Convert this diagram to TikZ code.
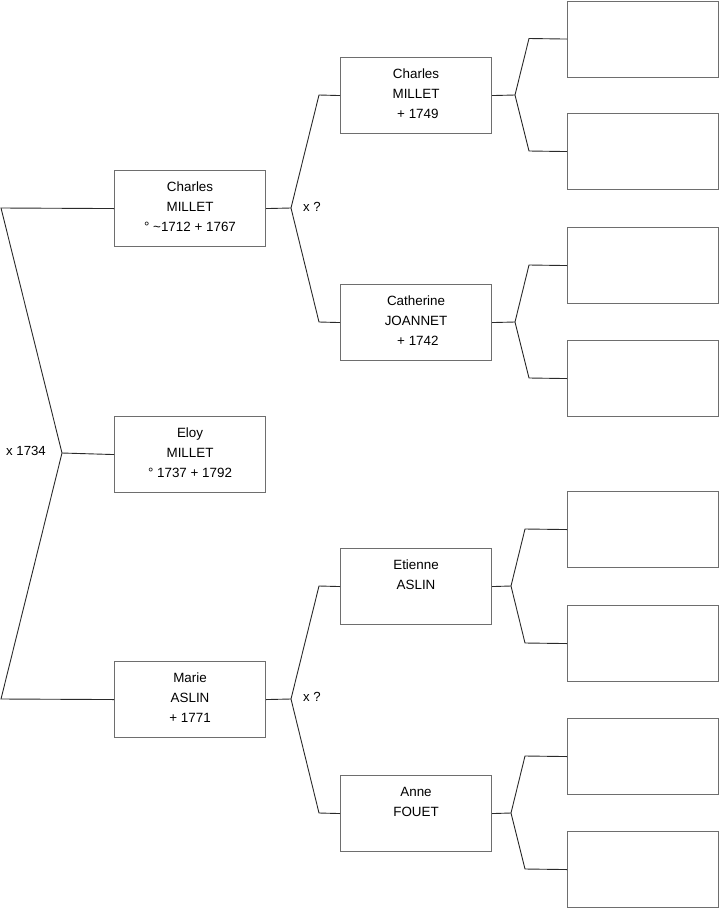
\documentclass[tikz,border=0pt]{standalone}
\usepackage{fontspec}
\setmainfont{Liberation Sans}
\definecolor{boxgray}{HTML}{6E6E6E}
\definecolor{linecol}{HTML}{2A2A2A}
\begin{document}
\begin{tikzpicture}[x=1pt,y=-1pt,
  box/.style={draw=boxgray, line width=1.1pt, minimum width=151pt, minimum height=76pt, inner sep=0pt, anchor=north west},
  txt/.style={font=\fontsize{13.4}{20}\selectfont, align=center, anchor=north, inner sep=0pt},
  lbl/.style={font=\fontsize{13.2}{16}\selectfont, inner sep=0pt},
  conn/.style={draw=linecol, line width=0.9pt, line join=miter}]
\useasboundingbox (0,0) rectangle (719,908);
% generation 2
\node[box] (charles) at (114,170) {};
\node[box] (eloy) at (114,416) {};
\node[box] (marie) at (114,661) {};
% generation 3
\node[box] (charles3) at (340,57) {};
\node[box] (catherine) at (340,284) {};
\node[box] (etienne) at (340,548) {};
\node[box] (anne) at (340,775) {};
% generation 4 (empty)
\node[box] (e1) at (567,0.5) {};
\node[box] (e2) at (567,113) {};
\node[box] (e3) at (567,227) {};
\node[box] (e4) at (567,340) {};
\node[box] (e5) at (567,491) {};
\node[box] (e6) at (567,605) {};
\node[box] (e7) at (567,718) {};
\node[box] (e8) at (567,831) {};
% texts
\node[txt] (tcharles) at ([yshift=-11.8pt]charles.north) {Charles\\MILLET\\° \textasciitilde1712 + 1767};
\node[txt] (teloy) at ([yshift=-11.8pt]eloy.north) {Eloy\\MILLET\\° 1737 + 1792};
\node[txt] (tmarie) at ([yshift=-11.8pt]marie.north) {Marie\\ASLIN\\+ 1771};
\node[txt] (tcharles3) at ([yshift=-11.8pt]charles3.north) {Charles\\MILLET\\\ + 1749};
\node[txt] (tcatherine) at ([yshift=-11.8pt]catherine.north) {Catherine\\JOANNET\\\ + 1742};
\node[txt] (tetienne) at ([yshift=-11.8pt]etienne.north) {Etienne\\ASLIN};
\node[txt] (tanne) at ([yshift=-11.8pt]anne.north) {Anne\\FOUET};
% labels
\node[lbl] (m1) at (26,451) {x 1734};
\node[lbl] (m2) at (312,207) {x ?};
\node[lbl] (m3) at (312,697) {x ?};
% coordinates
\coordinate (L1) at (1,208);
\coordinate (V0) at (62,453);
\coordinate (L2) at (1,699);
\coordinate (P1) at (291,208);
\coordinate (P1a) at (319,95);
\coordinate (P1b) at (319,322);
\coordinate (P2) at (291,699);
\coordinate (P2a) at (319,586);
\coordinate (P2b) at (319,813);
\coordinate (Q1) at (515,95);
\coordinate (Q1a) at (529,38.5);
\coordinate (Q1b) at (529,151);
\coordinate (Q2) at (515,322);
\coordinate (Q2a) at (529,265);
\coordinate (Q2b) at (529,378);
\coordinate (Q3) at (511,586);
\coordinate (Q3a) at (525,529);
\coordinate (Q3b) at (525,643);
\coordinate (Q4) at (511,813);
\coordinate (Q4a) at (525,756);
\coordinate (Q4b) at (525,869);
% connectors
\draw[conn] (charles.west) -- (L1) -- (V0) -- (L2) -- (marie.west);
\draw[conn] (V0) -- (eloy.west);
\draw[conn] (charles.east) -- (P1);
\draw[conn] (charles3.west) -- (P1a) -- (P1) -- (P1b) -- (catherine.west);
\draw[conn] (marie.east) -- (P2);
\draw[conn] (etienne.west) -- (P2a) -- (P2) -- (P2b) -- (anne.west);
\draw[conn] (charles3.east) -- (Q1);
\draw[conn] (e1.west) -- (Q1a) -- (Q1) -- (Q1b) -- (e2.west);
\draw[conn] (catherine.east) -- (Q2);
\draw[conn] (e3.west) -- (Q2a) -- (Q2) -- (Q2b) -- (e4.west);
\draw[conn] (etienne.east) -- (Q3);
\draw[conn] (e5.west) -- (Q3a) -- (Q3) -- (Q3b) -- (e6.west);
\draw[conn] (anne.east) -- (Q4);
\draw[conn] (e7.west) -- (Q4a) -- (Q4) -- (Q4b) -- (e8.west);
\end{tikzpicture}
\end{document}
